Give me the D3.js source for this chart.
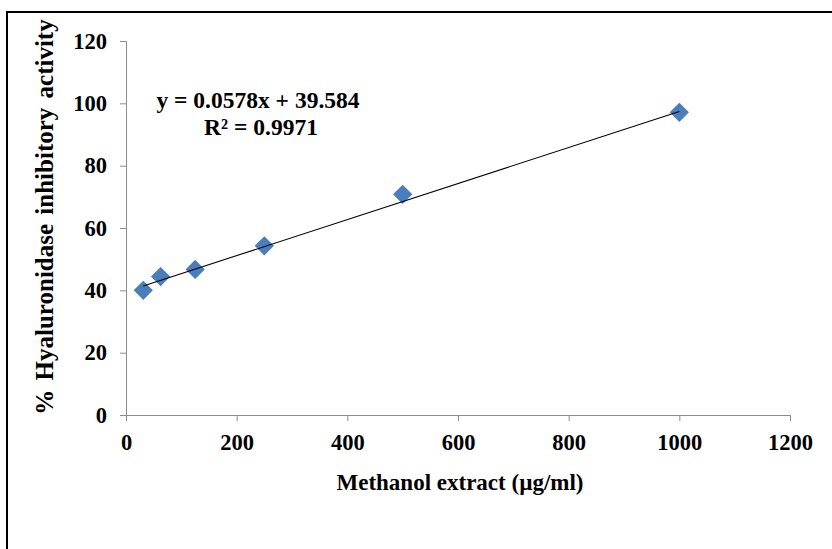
<!DOCTYPE html>
<html>
<head>
<meta charset="utf-8">
<script src="https://cdn.jsdelivr.net/npm/d3@7"></script>
<style>
  body { margin: 0; background: #fff; }
  text { font-family: "Liberation Serif", "Times New Roman", serif; font-weight: bold; fill: #000; }
</style>
</head>
<body>
<svg id="chart" width="832" height="549"></svg>
<script>
// concentrations (µg/ml) and % inhibition
var conc = [31.25, 62.5, 125, 250, 500, 1000];
var inhibition = [40.0, 44.4, 46.7, 54.3, 70.8, 97.1];
var xTicks = [0, 200, 400, 600, 800, 1000, 1200];
var yTicks = [0, 20, 40, 60, 80, 100, 120];
var slope = 0.0578, intercept = 39.584, r2 = 0.9971;

var svg = d3.select("#chart");
var W = 832, H = 549;
var m = {left: 126, right: 42, top: 41, bottom: 134};

// outer frame, runs off the right and bottom edge
svg.append("rect").attr("x", 7).attr("y", 12).attr("width", 900).attr("height", 700)
	.attr("fill", "none").attr("stroke", "#000").attr("stroke-width", 2);

var x = d3.scaleLinear().domain([0, 1200]).range([m.left, W - m.right]);
var y = d3.scaleLinear().domain([0, 120]).range([H - m.bottom, m.top]);

var gx = svg.append("g").attr("transform", "translate(0," + y(0) + ")")
	.call(d3.axisBottom(x).tickValues(xTicks).tickSize(6).tickPadding(8).tickFormat(d3.format("d")));
var gy = svg.append("g").attr("transform", "translate(" + x(0) + ",0)")
	.call(d3.axisLeft(y).tickValues(yTicks).tickSize(6).tickPadding(13).tickFormat(d3.format("d")));

[gx, gy].forEach(function(g){
	g.select(".domain").attr("stroke", "#8c8c8c");
	g.selectAll(".tick line").attr("stroke", "#8c8c8c");
	g.selectAll(".tick text").style("font-size", "22.5px").style("font-family", "Liberation Serif").style("font-weight", "bold").attr("fill", "#000");
});
gx.selectAll(".tick text").attr("dy", "0.95em");

var x0 = d3.min(conc), x1 = d3.max(conc);

var diamond = d3.symbol().type(d3.symbolSquare).size(185);
svg.append("g").selectAll("path").data(conc).enter().append("path")
	.attr("d", diamond)
	.attr("transform", function(d, i){ return "translate(" + x(d) + "," + y(inhibition[i]) + ")rotate(45)"; })
	.attr("fill", "#4a7ebb");

// linear trend line drawn on top of the markers, from first to last concentration
svg.append("line")
	.attr("x1", x(x0)).attr("y1", y(slope * x0 + intercept))
	.attr("x2", x(x1)).attr("y2", y(slope * x1 + intercept))
	.attr("stroke", "#000").attr("stroke-width", 1.1);

svg.append("text").attr("x", 258).attr("y", 108).attr("text-anchor", "middle")
	.style("font-size", "23.5px").text("y = " + slope + "x + " + intercept);
svg.append("text").attr("x", 261).attr("y", 135).attr("text-anchor", "middle")
	.style("font-size", "23.5px").text("R² = " + r2);

svg.append("text").attr("x", 460).attr("y", 490).attr("text-anchor", "middle")
	.style("font-size", "23px").text("Methanol extract (µg/ml)");

svg.append("text").attr("transform", "translate(53," + 217 + ")rotate(-90)").attr("text-anchor", "middle")
	.style("font-size", "25px").style("word-spacing", "3px").text("% Hyaluronidase inhibitory  activity");
</script>
</body>
</html>
